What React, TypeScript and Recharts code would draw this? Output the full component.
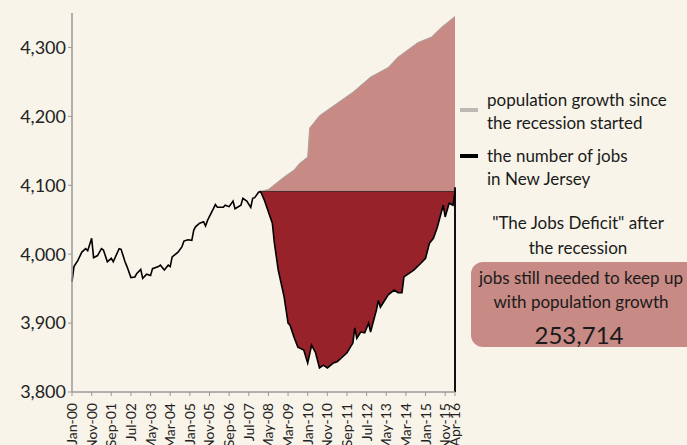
import React from "react";
import {
  ComposedChart,
  Area,
  Line,
  XAxis,
  YAxis,
  ReferenceLine,
} from "recharts";

// month index 0 = Jan-00, 195 = Apr-16; values in thousands of jobs
const jobsMonths = [
  0, 1, 3, 5, 7, 8, 10, 11, 13, 15, 16, 18, 20, 21, 24, 25, 27, 28, 30, 32, 33,
  35, 36, 38, 40, 41, 44, 45, 47, 49, 50, 51, 54, 56, 57, 59, 61, 62, 63, 65,
  67, 68, 69, 72, 73, 74, 77, 78, 80, 82, 83, 86, 87, 89, 91, 92, 93, 95, 96,
  98, 102, 103, 105, 108, 110, 111, 113, 115, 118, 120, 122, 124, 126, 128, 130,
  133, 135, 137, 140, 143, 144, 145, 147, 149, 151, 152, 155, 156, 157, 161,
  164, 166, 168, 169, 174, 178, 180, 182, 184, 186, 189, 190, 192, 194, 195,
];
const jobsLevels = [
  3960, 3982, 3991, 4003, 4008, 4005, 4023, 3995, 3998, 4008, 4006, 3989, 3994,
  3989, 4008, 4007, 3989, 3982, 3966, 3967, 3972, 3978, 3965, 3971, 3969, 3979,
  3982, 3984, 3977, 3984, 3982, 3996, 4003, 4011, 4019, 4021, 4020, 4035, 4040,
  4045, 4047, 4041, 4049, 4066, 4072, 4068, 4068, 4071, 4069, 4077, 4066, 4071,
  4081, 4077, 4068, 4081, 4082, 4090, 4091,
  4078, 4045, 4017, 3977, 3938, 3900, 3897, 3880, 3865, 3861, 3842, 3868, 3857,
  3835, 3839, 3835, 3842, 3844, 3849, 3857, 3871, 3893, 3878, 3887, 3886, 3900,
  3887, 3919, 3933, 3923, 3941, 3948, 3944, 3944, 3967, 3977, 3988, 3994, 4016,
  4023, 4039, 4071, 4054, 4074, 4071, 4091,
];

const popMonths = [96, 100, 108, 113, 116, 120, 121, 126, 135, 143, 152, 161, 166, 176, 183, 188, 195];
const popLevels = [4091, 4094, 4112, 4122, 4132, 4141, 4183, 4201, 4219, 4235, 4257, 4271, 4286, 4307, 4315, 4329, 4345];

const peakMonth = 96;
const peakLevel = 4091;

const tickMonths = [0, 10, 20, 30, 40, 50, 60, 70, 80, 90, 100, 110, 120, 130, 140, 150, 160, 170, 180, 190, 195];
const tickLabels = [
  "Jan-00", "Nov-00", "Sep-01", "Jul-02", "May-03", "Mar-04", "Jan-05", "Nov-05",
  "Sep-06", "Jul-07", "May-08", "Mar-09", "Jan-10", "Nov-10", "Sep-11", "Jul-12",
  "May-13", "Mar-14", "Jan-15", "Nov-15", "Apr-16",
];
const yTicks = [3800, 3900, 4000, 4100, 4200, 4300];

const months = Array.from(new Set([...jobsMonths, ...popMonths])).sort((a, b) => a - b);
const rows = months.map((m) => {
  const ji = jobsMonths.indexOf(m);
  const pi = popMonths.indexOf(m);
  const jobs = ji >= 0 ? jobsLevels[ji] : undefined;
  return {
    m,
    jobs,
    deficit: jobs !== undefined && m >= peakMonth ? jobs : undefined,
    pop: pi >= 0 ? popLevels[pi] : undefined,
  };
});

const BG = "#f8f4e9";
const PINK = "#c78a85";
const DARK = "#97222a";
const FONT = "Lato, 'Open Sans', sans-serif";

function XTick(props: any) {
  const { x, y, payload } = props;
  const idx = tickMonths.indexOf(payload.value);
  return (
    <text
      x={x}
      y={y}
      transform={`rotate(-90, ${x}, ${y})`}
      dx={-5}
      dy={5}
      textAnchor="end"
      fontSize={14}
      fill="#222"
      fontFamily={FONT}
    >
      {idx >= 0 ? tickLabels[idx] : ""}
    </text>
  );
}

const abs = (left: number, top: number, extra: React.CSSProperties = {}): React.CSSProperties => ({
  position: "absolute",
  left,
  top,
  ...extra,
});

export default function App() {
  return (
    <div
      style={{
        position: "absolute",
        left: 0,
        top: 0,
        width: 687,
        height: 445,
        background: BG,
        overflow: "hidden",
        fontFamily: FONT,
        color: "#1a1a1a",
      }}
    >
      <ComposedChart
        width={687}
        height={445}
        data={rows}
        margin={{ top: 13, right: 232, bottom: 0, left: 0 }}
      >
        <XAxis
          dataKey="m"
          type="number"
          domain={[0, 195]}
          ticks={tickMonths}
          interval={0}
          height={53}
          tick={<XTick />}
          tickLine={{ stroke: "#9a9a9a" }}
          tickSize={4}
          axisLine={{ stroke: "#9a9a9a", strokeWidth: 1.5 }}
        />
        <YAxis
          type="number"
          domain={[3800, 4350]}
          ticks={yTicks}
          width={72}
          tickSize={4}
          tickLine={{ stroke: "#9a9a9a" }}
          axisLine={{ stroke: "#9a9a9a", strokeWidth: 1.5 }}
          tick={{ fill: "#222", fontSize: 18, fontFamily: FONT }}
          tickFormatter={(v: number) => v.toLocaleString("en-US")}
          allowDataOverflow
        />
        <Area
          dataKey="pop"
          type="linear"
          baseValue={peakLevel}
          fill={PINK}
          fillOpacity={1}
          stroke="#a9a39c"
          strokeWidth={1}
          connectNulls
          isAnimationActive={false}
          dot={false}
          activeDot={false}
        />
        <Area
          dataKey="deficit"
          type="linear"
          baseValue={peakLevel}
          fill={DARK}
          fillOpacity={1}
          stroke="none"
          connectNulls
          isAnimationActive={false}
          dot={false}
          activeDot={false}
        />
        <ReferenceLine
          segment={[
            { x: peakMonth, y: peakLevel },
            { x: 195, y: peakLevel },
          ]}
          stroke="#4a2a2a"
          strokeWidth={1}
        />
        <ReferenceLine
          segment={[
            { x: 195, y: 3800 },
            { x: 195, y: 4097 },
          ]}
          stroke="#111"
          strokeWidth={2}
        />
        <Line
          dataKey="jobs"
          type="linear"
          stroke="#000"
          strokeWidth={1.6}
          dot={false}
          activeDot={false}
          connectNulls
          isAnimationActive={false}
        />
      </ComposedChart>

      <div style={abs(460, 108, { width: 18, height: 4, background: "#bdbab4" })} />
      <div style={abs(487, 88, { fontSize: 17, lineHeight: "23px", whiteSpace: "nowrap" })}>
        population growth since
        <br />
        the recession started
      </div>
      <div style={abs(460, 154, { width: 18, height: 4, background: "#000" })} />
      <div style={abs(487, 144, { fontSize: 17, lineHeight: "23px", whiteSpace: "nowrap" })}>
        the number of jobs
        <br />
        in New Jersey
      </div>

      <div
        style={abs(470, 210, {
          width: 216,
          textAlign: "center",
          fontSize: 17,
          lineHeight: "25px",
          whiteSpace: "nowrap",
        })}
      >
        "The Jobs Deficit" after
        <br />
        the recession
      </div>
      <div
        style={abs(471, 262, {
          width: 230,
          height: 85,
          background: PINK,
          borderRadius: 12,
        })}
      />
      <div
        style={abs(471, 266, {
          width: 220,
          textAlign: "center",
          fontSize: 17,
          lineHeight: "24px",
          whiteSpace: "nowrap",
        })}
      >
        jobs still needed to keep up
        <br />
        with population growth
      </div>
      <div
        style={abs(471, 320, {
          width: 216,
          textAlign: "center",
          fontSize: 24,
          lineHeight: "30px",
          whiteSpace: "nowrap",
        })}
      >
        253,714
      </div>
    </div>
  );
}
